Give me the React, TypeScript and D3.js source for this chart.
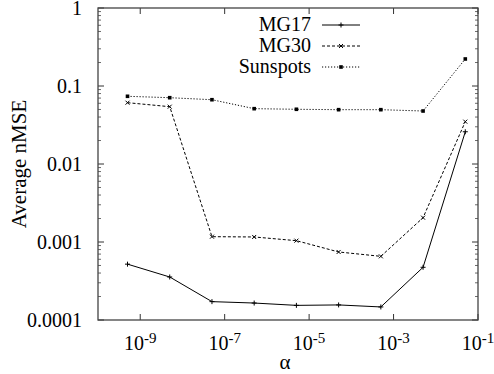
import React from "react";
import * as d3 from "d3";

const alphas = [5e-10, 5e-9, 5e-8, 5e-7, 5e-6, 5e-5, 5e-4, 5e-3, 5e-2];
const mg17 = [5.2e-4, 3.56e-4, 1.72e-4, 1.65e-4, 1.54e-4, 1.56e-4, 1.47e-4, 4.74e-4, 0.0259];
const mg30 = [0.0611, 0.0543, 1.17e-3, 1.16e-3, 1.04e-3, 7.45e-4, 6.55e-4, 2.05e-3, 0.0349];
const sunspots = [0.0738, 0.0708, 0.0667, 0.0512, 0.0503, 0.0497, 0.0497, 0.0478, 0.222];
const seriesNames = ["MG17", "MG30", "Sunspots"];
const xTickExps = [-9, -7, -5, -3, -1];
const yTickVals = [1e-4, 1e-3, 1e-2, 1e-1, 1];
const yTickLabels = ["0.0001", "0.001", "0.01", "0.1", "1"];

const W = 494, H = 374;
const L = 98, R = 478, T = 8, B = 320;

const font = (size: number) => ({ fontFamily: "'Times New Roman'", fontSize: size + "px" });

export default function App() {
  const x = d3.scaleLog().domain([1e-10, 1e-1]).range([L, R]);
  const y = d3.scaleLog().domain([1e-4, 1]).range([B, T]);
  const line = d3.line<[number, number]>().x(d => x(d[0])).y(d => y(d[1]));
  const series = [
    { name: seriesNames[0], vals: mg17, dash: undefined as string | undefined, marker: "plus" },
    { name: seriesNames[1], vals: mg30, dash: "3,2", marker: "cross" },
    { name: seriesNames[2], vals: sunspots, dash: "1.2,1.8", marker: "square" },
  ];
  const marker = (kind: string, cx: number, cy: number, key: string) => {
    if (kind === "plus")
      return <path key={key} d={`M${cx - 2.5},${cy}H${cx + 2.5}M${cx},${cy - 2.5}V${cy + 2.5}`} stroke="#000" strokeWidth={1} />;
    if (kind === "cross")
      return <path key={key} d={`M${cx - 2},${cy - 2}L${cx + 2},${cy + 2}M${cx - 2},${cy + 2}L${cx + 2},${cy - 2}`} stroke="#000" strokeWidth={1} />;
    return <rect key={key} x={cx - 1.8} y={cy - 1.8} width={3.6} height={3.6} fill="#000" />;
  };
  const minorY: number[] = [];
  for (let e = -4; e < 0; e++) for (let m = 2; m <= 9; m++) minorY.push(m * Math.pow(10, e));
  const legendY = [25, 46, 67];

  return (
    <svg width={W} height={H} style={{ position: "absolute", left: 0, top: 0, background: "#fff" }}>
      <rect x={0} y={0} width={W} height={H} fill="#fff" />
      {minorY.map((v, i) => (
        <g key={"my" + i}>
          <line x1={L} x2={L + 3} y1={y(v)} y2={y(v)} stroke="#444" strokeWidth={0.8} />
          <line x1={R} x2={R - 3} y1={y(v)} y2={y(v)} stroke="#444" strokeWidth={0.8} />
        </g>
      ))}
      {yTickVals.map((v, i) => (
        <g key={"y" + i}>
          <line x1={L} x2={L + 6} y1={y(v)} y2={y(v)} stroke="#333" strokeWidth={1} />
          <line x1={R} x2={R - 6} y1={y(v)} y2={y(v)} stroke="#333" strokeWidth={1} />
          <text x={82} y={y(v) + 7} textAnchor="end" style={font(20)}>{yTickLabels[i]}</text>
        </g>
      ))}
      {xTickExps.map((e, i) => {
        const xp = x(Math.pow(10, e));
        return (
          <g key={"x" + i}>
            <line x1={xp} x2={xp} y1={B} y2={B - 6} stroke="#333" strokeWidth={1} />
            <line x1={xp} x2={xp} y1={T} y2={T + 6} stroke="#333" strokeWidth={1} />
            <text x={xp} y={350} textAnchor="middle" style={font(20)}>
              10<tspan dy={-7} style={font(15)}>{"-" + Math.abs(e)}</tspan>
            </text>
          </g>
        );
      })}
      <rect x={L} y={T} width={R - L} height={B - T} fill="none" stroke="#444" strokeWidth={1.3} />
      {series.map((s) => {
        const pts = alphas.map((a, i) => [a, s.vals[i]] as [number, number]);
        return (
          <g key={s.name}>
            <path d={line(pts) || ""} fill="none" stroke="#000" strokeWidth={1} strokeDasharray={s.dash} />
            {pts.map((p, i) => marker(s.marker, x(p[0]), y(p[1]), s.name + i))}
          </g>
        );
      })}
      {series.map((s, i) => (
        <g key={"lg" + i}>
          <text x={311} y={legendY[i] + 6} textAnchor="end" style={font(20)}>{s.name}</text>
          <line x1={322} x2={360} y1={legendY[i]} y2={legendY[i]} stroke="#000" strokeWidth={1} strokeDasharray={s.dash} />
          {marker(s.marker, 341, legendY[i], "lgm" + i)}
        </g>
      ))}
      <text x={285} y={369} textAnchor="middle" style={font(21)}>α</text>
      <text transform={`translate(26,${(T + B) / 2}) rotate(-90)`} textAnchor="middle" style={font(21)}>Average nMSE</text>
    </svg>
  );
}
